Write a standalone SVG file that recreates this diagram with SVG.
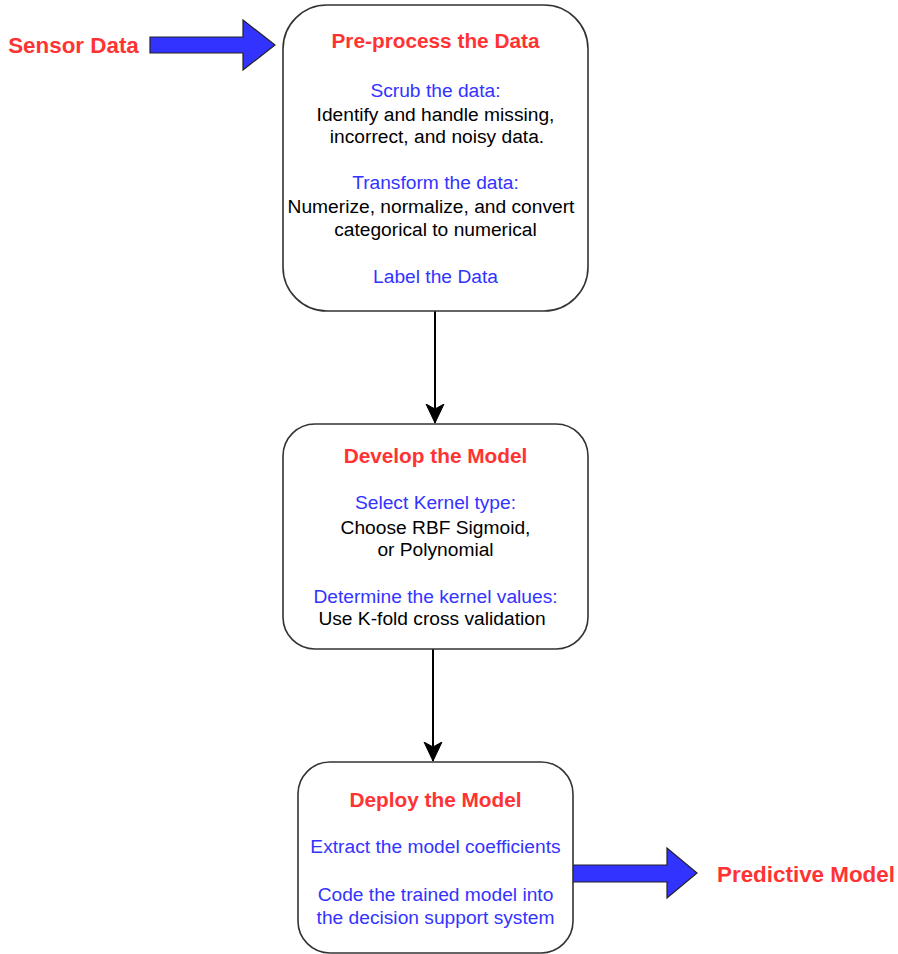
<svg xmlns="http://www.w3.org/2000/svg" width="898" height="954" viewBox="0 0 898 954">
  <style>
    .box { fill: #ffffff; stroke: #333333; stroke-width: 1.6; }
    .title { font-family: "Liberation Sans", Arial, sans-serif; font-size: 20.8px; font-weight: bold; fill: #ff3333; text-anchor: middle; }
    .ext { font-family: "Liberation Sans", Arial, sans-serif; font-size: 22.4px; font-weight: bold; fill: #ff3333; }
    .sub { font-family: "Liberation Sans", Arial, sans-serif; font-size: 19.2px; fill: #3333ff; text-anchor: middle; }
    .body { font-family: "Liberation Sans", Arial, sans-serif; font-size: 19.2px; fill: #000000; text-anchor: middle; }
    .link { fill: none; stroke: #000000; stroke-width: 2; }
    .flow { fill: #3333ff; stroke: #222222; stroke-width: 1.2; stroke-linejoin: miter; }
  </style>
  <defs>
    <marker id="head" viewBox="0 0 20 20" refX="19" refY="10" markerWidth="20" markerHeight="20" markerUnits="userSpaceOnUse" orient="auto">
      <path d="M0,1 L19,10 L0,19 L5,10 Z" fill="#000000" stroke="#000000" stroke-width="1"/>
    </marker>
  </defs>

  <rect width="898" height="954" fill="#ffffff"/>

  <!-- input / output block arrows -->
  <g id="sensor-data">
    <path class="flow" d="M150,37 L243,37 L243,20 L275,45 L243,70 L243,53 L150,53 Z"/>
    <text class="ext" x="73.5" y="53" text-anchor="middle">Sensor Data</text>
  </g>

  <g id="predictive-model">
    <path class="flow" d="M573,865 L667,865 L667,848 L697,873 L667,898 L667,882 L573,882 Z"/>
    <text class="ext" x="717" y="882">Predictive Model</text>
  </g>

  <!-- connectors between stages -->
  <g id="connectors">
    <line class="link" x1="435" y1="311" x2="435" y2="423" marker-end="url(#head)"/>
    <line class="link" x1="433" y1="649" x2="433" y2="761" marker-end="url(#head)"/>
  </g>

  <g id="preprocess">
    <rect class="box" x="283" y="5" width="305" height="306" rx="44" ry="44"/>
    <text class="title" x="435.5" y="48">Pre-process the Data</text>
    <text class="sub" x="435.5" y="97">Scrub the data:</text>
    <text class="body" x="435.5" y="121">Identify and handle missing,</text>
    <text class="body" x="437" y="143">incorrect, and noisy data.</text>
    <text class="sub" x="435.5" y="189">Transform the data:</text>
    <text class="body" x="431" y="213">Numerize, normalize, and convert</text>
    <text class="body" x="435.5" y="236">categorical to numerical</text>
    <text class="sub" x="435.5" y="283">Label the Data</text>
  </g>

  <g id="develop">
    <rect class="box" x="283" y="424" width="305" height="225" rx="32" ry="32"/>
    <text class="title" x="435.5" y="463">Develop the Model</text>
    <text class="sub" x="435.5" y="509">Select Kernel type:</text>
    <text class="body" x="435.5" y="534">Choose RBF Sigmoid,</text>
    <text class="body" x="435.5" y="556">or Polynomial</text>
    <text class="sub" x="435.5" y="603">Determine the kernel values:</text>
    <text class="body" x="432" y="625">Use K-fold cross validation</text>
  </g>

  <g id="deploy">
    <rect class="box" x="298" y="762" width="275" height="191" rx="32" ry="32"/>
    <text class="title" x="435.5" y="807">Deploy the Model</text>
    <text class="sub" x="435.5" y="853">Extract the model coefficients</text>
    <text class="sub" x="435.5" y="901">Code the trained model into</text>
    <text class="sub" x="435.5" y="924">the decision support system</text>
  </g>
</svg>
